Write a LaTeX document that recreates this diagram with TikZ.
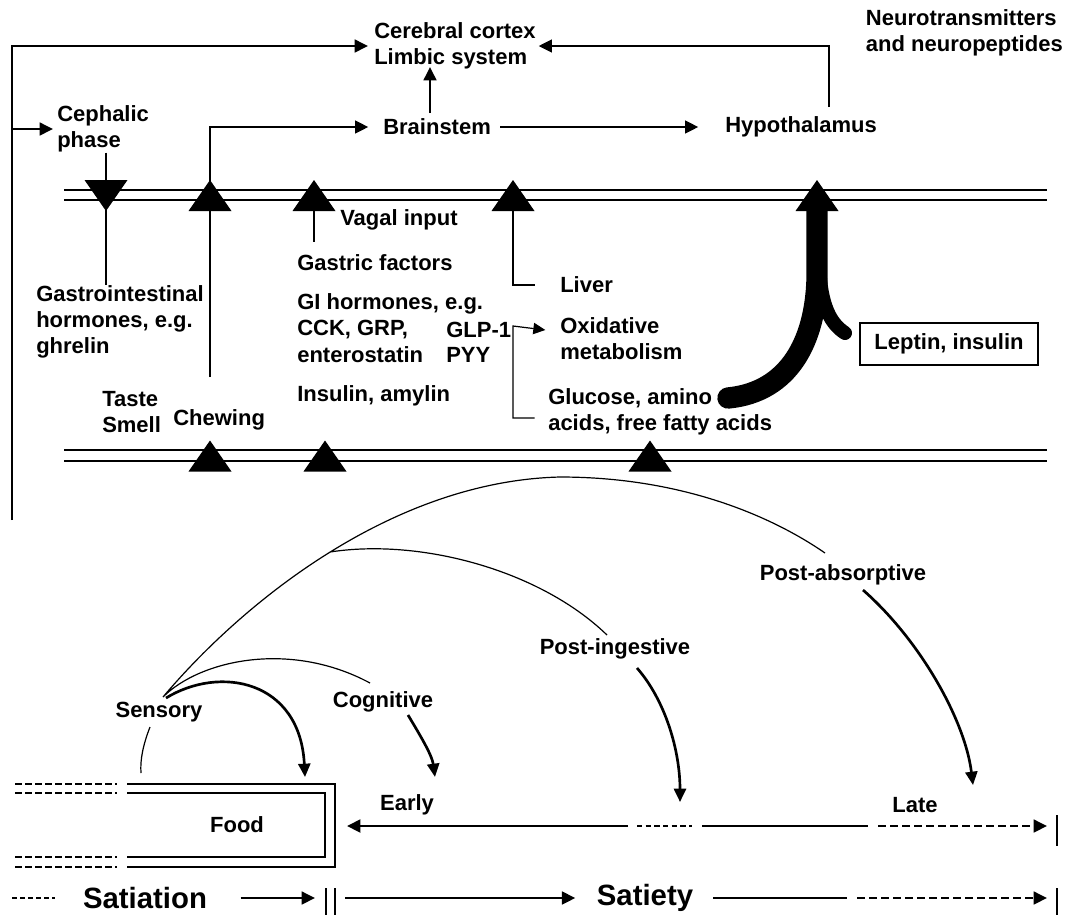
\documentclass[tikz,border=0pt]{standalone}
\usepackage{fontspec}
\setmainfont{Liberation Sans}
\usetikzlibrary{arrows.meta}

\tikzset{
  lbl/.style={font=\fontsize{16.5}{19.5}\selectfont\bfseries, inner sep=0pt, align=left},
  big/.style={font=\fontsize{22}{26}\selectfont\bfseries, inner sep=0pt},
  arr/.style={line width=1.9pt, -{Triangle[length=10pt,width=9.5pt]}},
  curvearr/.style={line width=2pt, -{Triangle[length=10pt,width=9pt]}},
  link/.style={line width=0.9pt},
  membrane/.style={line width=1.1pt},
  uptri/.pic={\fill (-21.5,15.5) -- (21.5,15.5) -- (0,-15.5) -- cycle;},
  downtri/.pic={\fill (-21.5,-15.5) -- (21.5,-15.5) -- (0,15.5) -- cycle;},
}

\begin{document}
\begin{tikzpicture}[x=0.75pt,y=-0.75pt]
        \useasboundingbox (0,0) rectangle (1067,915);
        % Zentren oben
        \node[lbl, anchor=west] (cortex) at (374,46) {Cerebral cortex\\Limbic system};
        \node[lbl, anchor=east] (neuro) at (1063,33) {Neurotransmitters\\and neuropeptides};
        \node[lbl, anchor=west] (cephalic) at (57,129) {Cephalic\\phase};
        \node[lbl, anchor=west] (brainstem) at (383,127) {Brainstem};
        \node[lbl, anchor=west] (hypo) at (725,127) {Hypothalamus};
        % Membranen
        \draw[membrane]
        (64,190) -- (1047,190)
        (64,200) -- (1047,200)
        (64,450) -- (1047,450)
        (64,461) -- (1047,461)
        ;
        \coordinate (t1) at (106,195.5);
        \coordinate (t2) at (210,195.5);
        \coordinate (t3) at (314,195.5);
        \coordinate (t4) at (513,195.5);
        \coordinate (t5) at (817,195.5);
        % Signale im Darm
        \node[lbl, anchor=west] (vagal) at (340,220) {Vagal input};
        \node[lbl, anchor=west] (gastric) at (297,263) {Gastric factors};
        \node[lbl, anchor=west] (gihorm) at (297,304) {GI hormones, e.g.};
        \node[lbl, anchor=west] (cck) at (297,330) {CCK, GRP,};
        \node[lbl, anchor=west] (entero) at (297,355) {enterostatin};
        \node[lbl, anchor=west] (glp) at (446,330) {GLP-1};
        \node[lbl, anchor=west] (pyy) at (446,355) {PYY};
        \node[lbl, anchor=west] (insulin) at (297,396) {Insulin, amylin};
        \node[lbl, anchor=west] (liver) at (560,285) {Liver};
        \node[lbl, anchor=west] (oxid) at (560,339) {Oxidative\\metabolism};
        \node[lbl, anchor=west] (glucose) at (548,412) {Glucose, amino\\acids, free fatty acids};
        \node[lbl, draw, line width=0.9pt, align=center, minimum width=133.5pt, minimum height=31.5pt] (leptin) at (949,344) {Leptin, insulin};
        \node[lbl, anchor=west] (gastro) at (36,322) {Gastrointestinal\\hormones, e.g.\\ghrelin};
        \node[lbl, anchor=west] (taste) at (102,412) {Taste\\Smell};
        \node[lbl, anchor=west] (chewing) at (173,420) {Chewing};
        % Pfeile oben
        \draw[arr] (12,520) |- ([xshift=-4.5pt]cortex.west);
        \draw[arr] (12,129) -- ([xshift=-3pt]cephalic.west);
        \draw[arr] (829,107) |- ([xshift=2pt]cortex.east);
        \draw[arr] (210,377) |- ([xshift=-11pt]brainstem.west);
        \draw[arr] ([xshift=7pt]brainstem.east) -- ([xshift=-20pt]hypo.west);
        \draw[arr] (430,113) -- (430,67);
        % Verbindungen
        \draw[link]
        (cephalic.south -| t1) -- (gastro.north -| t1)
        (t3) -- (314,242)
        (t4) |- ([xshift=-19pt]liver.west)
        ;
        \draw[link, -{Triangle[length=9pt,width=8.5pt]}]
        ([xshift=-10pt]glucose.west |- 0,418) -| (513,326) -- ([xshift=-11pt]oxid.west |- glp.east);
        % Leptin und Naehrstoffe
        \draw[line width=16pt, line cap=round]
        (728,398) .. controls (790,392) and (815,340) .. (817,280) -- (817,205);
        \draw[line width=10.5pt, line cap=round]
        (845,333) .. controls (828,322) and (819,300) .. (819,255);
        % Dreiecke
        \pic at (t1) {downtri};
        \foreach \x in {t2,t3,t4,t5} \pic at (\x) {uptri};
        \foreach \x in {210,325,650} \pic at (\x,456) {uptri};
        % Unterer Teil
        \node[lbl] (sensory) at (159,712) {Sensory};
        \node[lbl] (cognitive) at (383,702) {Cognitive};
        \node[lbl] (postingest) at (615,649) {Post-ingestive};
        \node[lbl] (postabs) at (843,575) {Post-absorptive};
        \node[lbl] (food) at (237,825) {Food};
        \node[lbl] (early) at (407,805) {Early};
        \node[lbl] (late) at (915,805) {Late};
        \node[big] (satiation) at (145,898) {Satiation};
        \node[big] (satiety) at (645,898) {Satiety};
        % Boegen
        \coordinate (hub) at (163,697);
        \coordinate (kink) at (330,552);
        \draw[link]
        (hub) .. controls (245,600) and (394,481) .. (560,477)
        .. controls (680,477) and (770,515) .. (825,553)
        (kink) .. controls (420,538) and (540,570) .. (607,635)
        (hub) .. controls (200,660) and (290,640) .. (370,683)
        (150,727) .. controls (143,745) and (140,760) .. (141,773)
        ;
        \draw[curvearr] (166,698) .. controls (220,665) and (300,680) .. (305,777);
        \draw[curvearr] (408,715) .. controls (420,735) and (432,755) .. (435,777);
        \draw[curvearr] (637,668) .. controls (665,700) and (680,750) .. (680,802);
        \draw[curvearr] (863,590) .. controls (920,640) and (965,720) .. (973,785);
        % Nahrung
        \draw[link]
        (127,784) -- (335,784) -- (335,867) -- (127,867)
        (127,793) -- (325,793) -- (325,857) -- (127,857)
        ;
        \draw[line width=1.4pt, dash pattern=on 5pt off 2.5pt]
        (15,784) -- (117,784)
        (15,793) -- (117,793)
        (15,857) -- (117,857)
        (15,867) -- (117,867)
        ;
        % Zeitachsen
        \coordinate (foodtip) at (347,826);
        \draw[arr, line width=2.2pt] (628,826) -- (foodtip);
        \draw[line width=1.6pt, dash pattern=on 4pt off 2.5pt] (637,826) -- (692,826);
        \draw[link] (702,826) -- (868,826);
        \draw[arr, dash pattern=on 6pt off 3pt] (878,826) -- (1047,826);
        \draw[link] (1057,815) -- (1057,846);
        \draw[line width=1pt, dash pattern=on 4pt off 2pt] (12,898) -- (55,898);
        \draw[arr] ([xshift=25pt]satiation.east) -- (315,898);
        \draw[link]
        (326,888) -- (326,915)
        (335,888) -- (335,915)
        (1057,888) -- (1057,915)
        ;
        \draw[arr] (345,898) -- ([xshift=-16pt]satiety.west);
        \draw[link] ([xshift=15pt]satiety.east) -- (847,898);
        \draw[arr, dash pattern=on 6pt off 3pt] (857,898) -- (1047,898);
    \end{tikzpicture}
\end{document}
